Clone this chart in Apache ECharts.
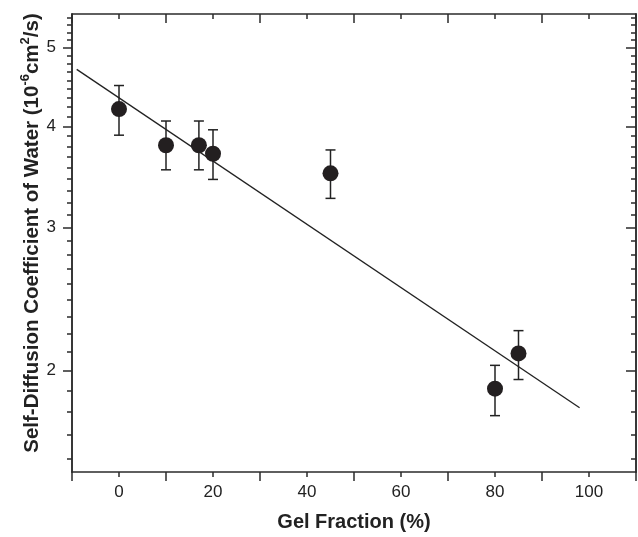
<!DOCTYPE html>
<html><head><meta charset="utf-8">
<script src="https://cdn.jsdelivr.net/npm/echarts@6/dist/echarts.min.js"></script>
<style>html,body{margin:0;padding:0;background:#fff}#c{width:638px;height:537px}</style>
</head><body><div id="c"></div>
<script>
const gelFraction = [0, 10, 17, 20, 45, 80, 85];
const diffusion   = [4.20, 3.79, 3.79, 3.70, 3.50, 1.90, 2.10];
const errLow      = [3.90, 3.535, 3.535, 3.44, 3.26, 1.76, 1.95];
const errHigh     = [4.49, 4.06, 4.06, 3.96, 3.74, 2.03, 2.24];
const fitX = [-9, 98];
const fitY = [4.70, 1.80];
const xTickLabels = [0, 20, 40, 60, 80, 100];
const yMajorTicks = [2, 3, 4, 5];
const yMinorTicks = [];
[1, 2, 3, 4, 5].forEach(function (b) { for (let k = 1; k <= 8; k++) { const v = b + k / 9; if (v > 1.5 && v < 5.5) yMinorTicks.push(v); } });

const axisColor = '#2b2b2b';
const font = 'Liberation Sans, Arial, sans-serif';
const lineStyle = { color: axisColor, width: 1.5 };

function yAx(pos, ticks, len, inside, showLabel, extra) {
  return Object.assign({
    type: 'log', min: 1.5, max: 5.5, position: pos,
    axisLine: { show: true, onZero: false, lineStyle: lineStyle },
    axisTick: { show: true, inside: inside, length: len, customValues: ticks, lineStyle: lineStyle },
    axisLabel: { show: showLabel, customValues: ticks, fontFamily: font, fontSize: 17, color: '#222', margin: 16 },
    splitLine: { show: false }, minorTick: { show: false }
  }, extra || {});
}
function xAx(pos, inside, showLabel, extra) {
  return Object.assign({
    type: 'value', min: -10, max: 110, interval: 20, position: pos,
    axisLine: { show: true, onZero: false, lineStyle: lineStyle },
    axisTick: { show: true, inside: inside, length: 9, lineStyle: lineStyle },
    minorTick: { show: true, splitNumber: 2, length: 5, lineStyle: lineStyle },
    axisLabel: { show: showLabel, fontFamily: font, fontSize: 17, color: '#222', margin: 12,
      customValues: xTickLabels },
    splitLine: { show: false }
  }, extra || {});
}

const chart = echarts.init(document.getElementById('c'), null, { renderer: 'canvas' });
chart.setOption({
  animation: false,
  backgroundColor: '#fff',
  grid: { left: 72, top: 14, right: 2, bottom: 65, containLabel: false },
  xAxis: [
    xAx('bottom', false, true, {
      name: 'Gel Fraction (%)', nameLocation: 'middle', nameGap: 40, nameMoveOverlap: false,
      nameTextStyle: { fontFamily: font, fontSize: 20, fontWeight: 'bold', color: '#222' }
    }),
    xAx('top', true, false)
  ],
  yAxis: [
    yAx('left', yMajorTicks, 9, false, true, {
      name: '{t|Self-Diffusion Coefficient of Water (10}{s|-6}{t|cm}{s|2}{t|/s)}',
      nameLocation: 'middle', nameGap: 29, nameRotate: 90, nameMoveOverlap: false,
      nameTextStyle: {
        padding: [0, 0, 0, 20],
        rich: {
          t: { fontFamily: font, fontSize: 20.5, fontWeight: 'bold', color: '#222', lineHeight: 24, verticalAlign: 'bottom' },
          s: { fontFamily: font, fontSize: 13, fontWeight: 'bold', color: '#222', lineHeight: 24, verticalAlign: 'top' }
        }
      }
    }),
    yAx('left', yMinorTicks, 5, false, false),
    yAx('right', yMajorTicks, 10, true, false),
    yAx('right', yMinorTicks, 5, true, false)
  ],
  series: [
    {
      type: 'line', data: fitX.map(function (x, i) { return [x, fitY[i]]; }),
      showSymbol: false, symbol: 'none', lineStyle: { color: '#222', width: 1.3 }, z: 2
    },
    {
      type: 'custom', z: 3,
      data: gelFraction.map(function (x, i) { return [x, errLow[i], errHigh[i]]; }),
      renderItem: function (params, api) {
        const lo = api.coord([api.value(0), api.value(1)]);
        const hi = api.coord([api.value(0), api.value(2)]);
        const w = 5;
        const st = { stroke: '#222', lineWidth: 1.5 };
        return { type: 'group', children: [
          { type: 'line', shape: { x1: hi[0], y1: hi[1], x2: lo[0], y2: lo[1] }, style: st },
          { type: 'line', shape: { x1: hi[0] - w, y1: hi[1], x2: hi[0] + w, y2: hi[1] }, style: st },
          { type: 'line', shape: { x1: lo[0] - w, y1: lo[1], x2: lo[0] + w, y2: lo[1] }, style: st }
        ]};
      }
    },
    {
      type: 'scatter', z: 4, symbol: 'circle', symbolSize: 16,
      data: gelFraction.map(function (x, i) { return [x, diffusion[i]]; }),
      itemStyle: { color: '#231f20', opacity: 1 }
    }
  ]
});
</script>
</body></html>
